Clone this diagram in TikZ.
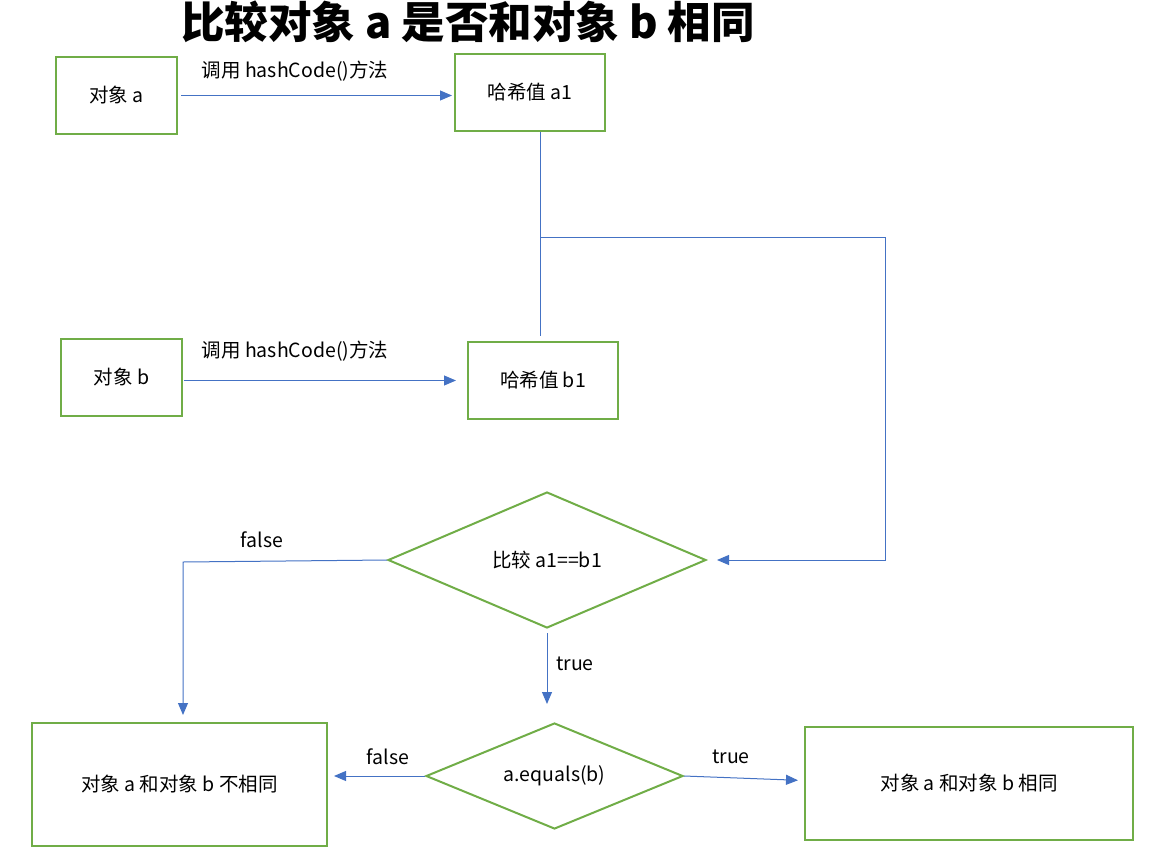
\documentclass[tikz,border=0pt]{standalone}
\usepackage{fontspec}
\setmainfont{Noto Sans CJK SC}
\usetikzlibrary{shapes.geometric,arrows.meta,calc}
\definecolor{gr}{HTML}{70AD47}
\definecolor{bl}{HTML}{4472C4}
\begin{document}
\begin{tikzpicture}[x=1pt,y=-1pt,
  box/.style={draw=gr,line width=2pt,inner sep=0pt,font=\fontsize{19.5}{22}\selectfont},
  dia/.style={draw=gr,line width=2pt,shape=diamond,aspect=2.4,inner sep=0pt,font=\fontsize{19.5}{22}\selectfont},
  conn/.style={draw=bl,line width=1pt},
  arr/.style={conn,-{Triangle[width=10pt,length=12pt]}},
  lab/.style={inner sep=0pt,font=\fontsize{19.5}{22}\selectfont}]
\useasboundingbox (0,0) rectangle (1160,865);
\node[inner sep=0pt,font=\fontsize{43.5}{46}\selectfont\bfseries] (title) at (468,22) {比较对象 a 是否和对象 b 相同};
\node[box,minimum width=121pt,minimum height=77pt] (oa) at (116.5,95.5) {对象 a};
\node[box,minimum width=150pt,minimum height=77pt] (ha) at (530,92.5) {哈希值 a1};
\node[box,minimum width=121pt,minimum height=77pt] (ob) at (121.5,377.5) {对象 b};
\node[box,minimum width=150pt,minimum height=77pt] (hb) at (543,380.5) {哈希值 b1};
\node[dia,minimum width=318pt,minimum height=136pt] (d1) at (547,560) {比较 a1==b1};
\node[dia,minimum width=257pt,minimum height=106pt] (d2) at (554.5,776) {a.equals(b)};
\node[box,minimum width=295pt,minimum height=123pt] (ns) at (179.5,784.5) {对象 a 和对象 b 不相同};
\node[box,minimum width=328pt,minimum height=113pt] (sm) at (969,783.5) {对象 a 和对象 b 相同};
\node[lab] (l1) at (295,71) {调用 hashCode()方法};
\node[lab] (l2) at (295,351) {调用 hashCode()方法};
\node[lab] (l3) at (262,540) {false};
\node[lab] (l4) at (575,664) {true};
\node[lab] (l5) at (388,757) {false};
\node[lab] (l6) at (731,757) {true};
\coordinate (j) at (540,237);
\coordinate (rc) at (885,237);
\coordinate (fc) at (183,562);
\coordinate (se) at ($(sm.west)+(0,-3)$);
\draw[arr,shorten <=3pt,shorten >=2pt] (oa.east) -- (ha.west |- oa.east);
\draw[arr,shorten <=1pt,shorten >=11pt] (ob.east |- hb.west) -- (hb.west);
\draw[conn] (ha.south -| j) -- (j);
\draw[conn,shorten >=5pt] (j) -- (j |- hb.north);
\draw[arr,shorten >=10pt] (j) -- (rc) -- (rc |- d1.east) -- (d1.east);
\draw[arr,shorten >=7pt] (d1.west) -- (fc) -- (fc |- ns.north);
\draw[arr,shorten <=4pt,shorten >=18pt] (d1.south) -- (d1.south |- d2.north);
\draw[arr,shorten >=6pt] (d2.east) -- (se);
\draw[arr,shorten >=6pt] (d2.west) -- (ns.east |- d2.west);
\end{tikzpicture}
\end{document}
